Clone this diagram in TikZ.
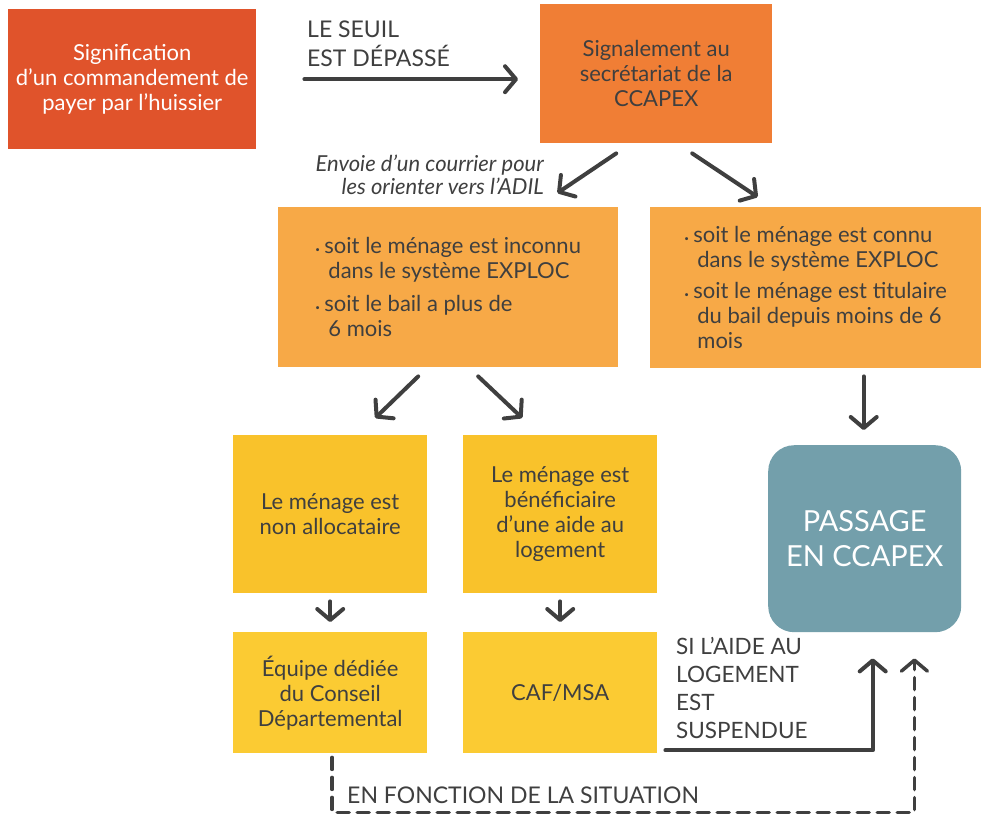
\documentclass[tikz,border=0pt]{standalone}
\usepackage{fontspec}
\setmainfont{Lato}
\usetikzlibrary{arrows.meta,calc}
\definecolor{cA}{HTML}{E0532B}
\definecolor{cB}{HTML}{F07E35}
\definecolor{cC}{HTML}{F7A947}
\definecolor{cD}{HTML}{F9C22B}
\definecolor{cE}{HTML}{FBCB33}
\definecolor{cP}{HTML}{739FAB}
\definecolor{dk}{HTML}{3F3F3F}
\newcommand{\bul}{\makebox[9pt][l]{\raisebox{1pt}{\footnotesize•}}}
\newcommand{\hind}{\hspace*{13pt}}
\tikzset{
  box/.style={anchor=north west, inner sep=0pt, text=dk, align=center,
    font=\fontsize{22}{25}\selectfont},
  arr/.style={draw=dk, line width=4pt, line cap=round, line join=round,
    -{Straight Barb[length=11pt,width=26pt,round]}},
  darr/.style={arr, dash pattern=on 12pt off 8pt, line width=3.5pt},
  lbl/.style={text=dk, inner sep=0pt, align=left},
}
\begin{document}
\begin{tikzpicture}[x=1pt,y=-1pt]
\useasboundingbox (0,0) rectangle (981,816);
% boxes
\node[box, fill=cA, text=white, minimum width=248pt, minimum height=140pt] (b1) at (8,9)
  {Signification\\d’un commandement de\\payer par l’huissier};
\node[box, fill=cB, minimum width=232pt, minimum height=139pt] (b2) at (540,4)
  {Signalement au\\secrétariat de la\\CCAPEX};
\node[box, fill=cC, align=left, minimum width=340pt, minimum height=160pt] (b3) at (278,207)
  {\bul soit le ménage est inconnu\\\hind dans le système EXPLOC\\[8pt]\bul soit le bail a plus de\\\hind 6 mois};
\node[box, fill=cC, align=left, minimum width=331pt, minimum height=161pt] (b4) at (650,207)
  {\bul soit le ménage est connu\\\hind dans le système EXPLOC\\[6pt]\bul soit le ménage est titulaire\\\hind du bail depuis moins de 6\\\hind mois};
\node[box, fill=cD, minimum width=194pt, minimum height=158pt] (b5) at (233,435)
  {Le ménage est\\non allocataire};
\node[box, fill=cD, minimum width=194pt, minimum height=158pt] (b6) at (463,435)
  {Le ménage est\\bénéficiaire\\d’une aide au\\logement};
\node[box, fill=cE, minimum width=194pt, minimum height=121pt] (b8) at (233,632)
  {Équipe dédiée\\du Conseil\\Départemental};
\node[box, fill=cE, minimum width=194pt, minimum height=121pt] (b9) at (463,632)
  {CAF/MSA};
\node[box, fill=cP, text=white, rounded corners=26pt, minimum width=193pt, minimum height=187pt,
  font=\fontsize{29}{35}\selectfont] (b7) at (768,445)
  {PASSAGE\\EN CCAPEX};
% labels
\node[lbl, anchor=north west, font=\fontsize{23}{29}\selectfont] (l1) at (307,21)
  {LE SEUIL\\EST DÉPASSÉ};
\node[lbl, anchor=north east, align=right, font=\itshape\fontsize{22}{23}\selectfont] (l2) at (544,155)
  {Envoie d’un courrier pour\\les orienter vers l’ADIL};
\node[lbl, anchor=north west, font=\fontsize{22.5}{28}\selectfont] (l3) at (676,637)
  {SI L’AIDE AU\\LOGEMENT\\EST\\SUSPENDUE};
\node[lbl, anchor=west, font=\fontsize{23}{28}\selectfont] (l4) at (347,795)
  {EN FONCTION DE LA SITUATION};
% arrows
\draw[arr] ($(b1.east)+(48,0)$) -- ($(b1.east -| b2.west)+(-22,0)$);
\draw[arr] ($(b2.south)+(-40,10)$) -- ($(b3.north east)+(-61,-14)$);
\draw[arr] ($(b2.south)+(36,10)$) -- ($(b4.north)+(-58,-10)$);
\draw[arr] ($(b3.south)+(-30,9)$) -- ($(b5.north)+(45,-17)$);
\draw[arr] ($(b3.south)+(30,9)$) -- ($(b6.north)+(-38,-17)$);
\draw[arr] ($(b7.north |- b4.south)+(-1,8)$) -- ($(b7.north)+(-1,-15)$);
\draw[arr] ($(b5.south)+(0,8)$) -- ($(b8.north)+(0,-10)$);
\draw[arr] ($(b6.south)+(0,8)$) -- ($(b9.north)+(0,-10)$);
\coordinate (s1) at ($(b9.south east)+(8,-3)$);
\draw[arr] (s1) -| ($(b7.south)+(8,26)$);
\coordinate (d1) at ($(b8.south)+(2,4)$);
\draw[darr] (d1) -- ++(0,55) -| ($(b7.south east)+(-47,26)$);
\end{tikzpicture}
\end{document}
